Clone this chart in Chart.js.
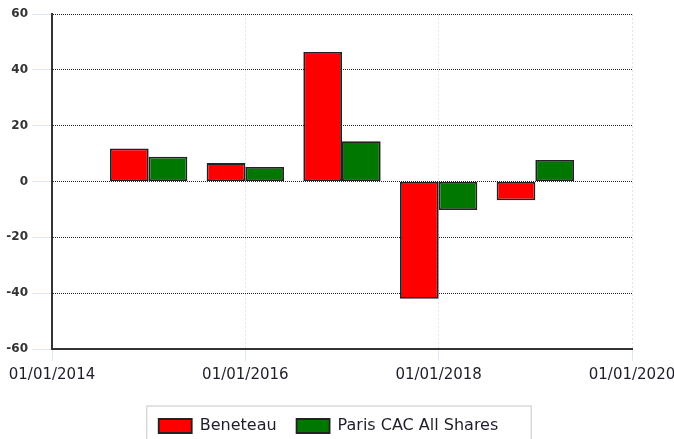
<!DOCTYPE html>
<html>
<head>
<meta charset="utf-8">
<script src="https://cdn.jsdelivr.net/npm/chart.js@4/dist/chart.umd.min.js"></script>
<style>
  html, body { margin: 0; padding: 0; background: #fff; }
  #wrap { width: 674px; height: 439px; }
</style>
</head>
<body>
<div id="wrap"><canvas id="chart" width="674" height="439"></canvas></div>
<script>
'use strict';

/* ─── Données ─────────────────────────────────────────────── */
var years      = [2015, 2016, 2017, 2018, 2019];
var beneteau   = [11.8, 6.6, 46.4, -42, -6.7];
var cacAll     = [8.9, 5.2, 14.4, -10.2, 7.7];
var seriesNames = ['Beneteau', 'Paris CAC All Shares'];
var xTicks     = [2014, 2016, 2018, 2020];
var yTicks     = [-60, -40, -20, 0, 20, 40, 60];

function toPoints(vals) {
  var out = [];
  for (var i = 0; i < years.length; i++) {
    out.push({ x: years[i], y: vals[i] });
  }
  return out;
}

/* ─── Cadre autour de la légende ──────────────────────────── */
var legendFrame = {
  id: 'legendFrame',
  afterDraw: function(chart) {
    var lg = chart.legend;
    if (!lg || !lg.legendHitBoxes || !lg.legendHitBoxes.length) { return; }
    var boxes = lg.legendHitBoxes;
    var first = boxes[0], last = boxes[boxes.length - 1];
    var left = first.left - 12;
    var right = last.left + last.width + 33;
    var ctx = chart.ctx;
    ctx.save();
    ctx.strokeStyle = '#d9d9d9';
    ctx.lineWidth = 1.5;
    ctx.strokeRect(left, first.top - 12, right - left, 60);
    ctx.restore();
  }
};

var blueTick = '#dbe7f5';

new Chart(document.getElementById('chart'), {
  type: 'bar',
  data: {
    datasets: [{
      label: seriesNames[0],
      data: toPoints(beneteau),
      backgroundColor: '#ff0000',
      borderColor: '#222',
      borderWidth: 1.8,
      borderSkipped: false
    }, {
      label: seriesNames[1],
      data: toPoints(cacAll),
      backgroundColor: '#007800',
      borderColor: '#222',
      borderWidth: 1.8,
      borderSkipped: false
    }]
  },
  options: {
    responsive: false,
    animation: false,
    categoryPercentage: 0.8,
    barPercentage: 1.0,
    /* bas négatif : la légende déborde un peu sous le canvas */
    layout: { padding: { top: 14, right: 17, left: 0, bottom: -5 } },
    plugins: {
      tooltip: { enabled: false },
      legend: {
        position: 'bottom',
        labels: {
          boxWidth: 33,
          boxHeight: 14,
          padding: 20,
          color: '#1e1e2a',
          font: { family: 'DejaVu Sans', size: 16 }
        }
      }
    },
    scales: {
      x: {
        type: 'linear',
        offset: false,
        min: xTicks[0],
        max: xTicks[xTicks.length - 1],
        afterBuildTicks: function(axis) {
          axis.ticks = xTicks.map(function(v) { return { value: v }; });
        },
        afterFit: function(axis) {
          axis.height = 49;
          axis.paddingLeft = 0;
          axis.paddingRight = 42;
        },
        ticks: {
          padding: 5,
          maxRotation: 0,
          color: '#1e1e2a',
          font: { family: 'DejaVu Sans', size: 15 },
          callback: function(v) { return '01/01/' + v; }
        },
        grid: {
          offset: false,
          color: blueTick,
          tickColor: blueTick,
          tickLength: 12,
          lineWidth: 1
        },
        border: { display: true, color: '#333', width: 2, dash: [2, 2] }
      },
      y: {
        min: yTicks[0],
        max: yTicks[yTicks.length - 1],
        afterBuildTicks: function(axis) {
          axis.ticks = yTicks.map(function(v) { return { value: v }; });
        },
        afterFit: function(axis) { axis.width = 52; },
        ticks: {
          padding: 4,
          color: '#333',
          font: { family: 'DejaVu Sans', size: 12, weight: 'bold' }
        },
        grid: {
          color: '#222',
          tickColor: blueTick,
          tickLength: 20,
          lineWidth: 1
        },
        border: { display: true, color: '#333', width: 2, dash: [1, 1] }
      }
    }
  },
  plugins: [legendFrame]
});
</script>
</body>
</html>
